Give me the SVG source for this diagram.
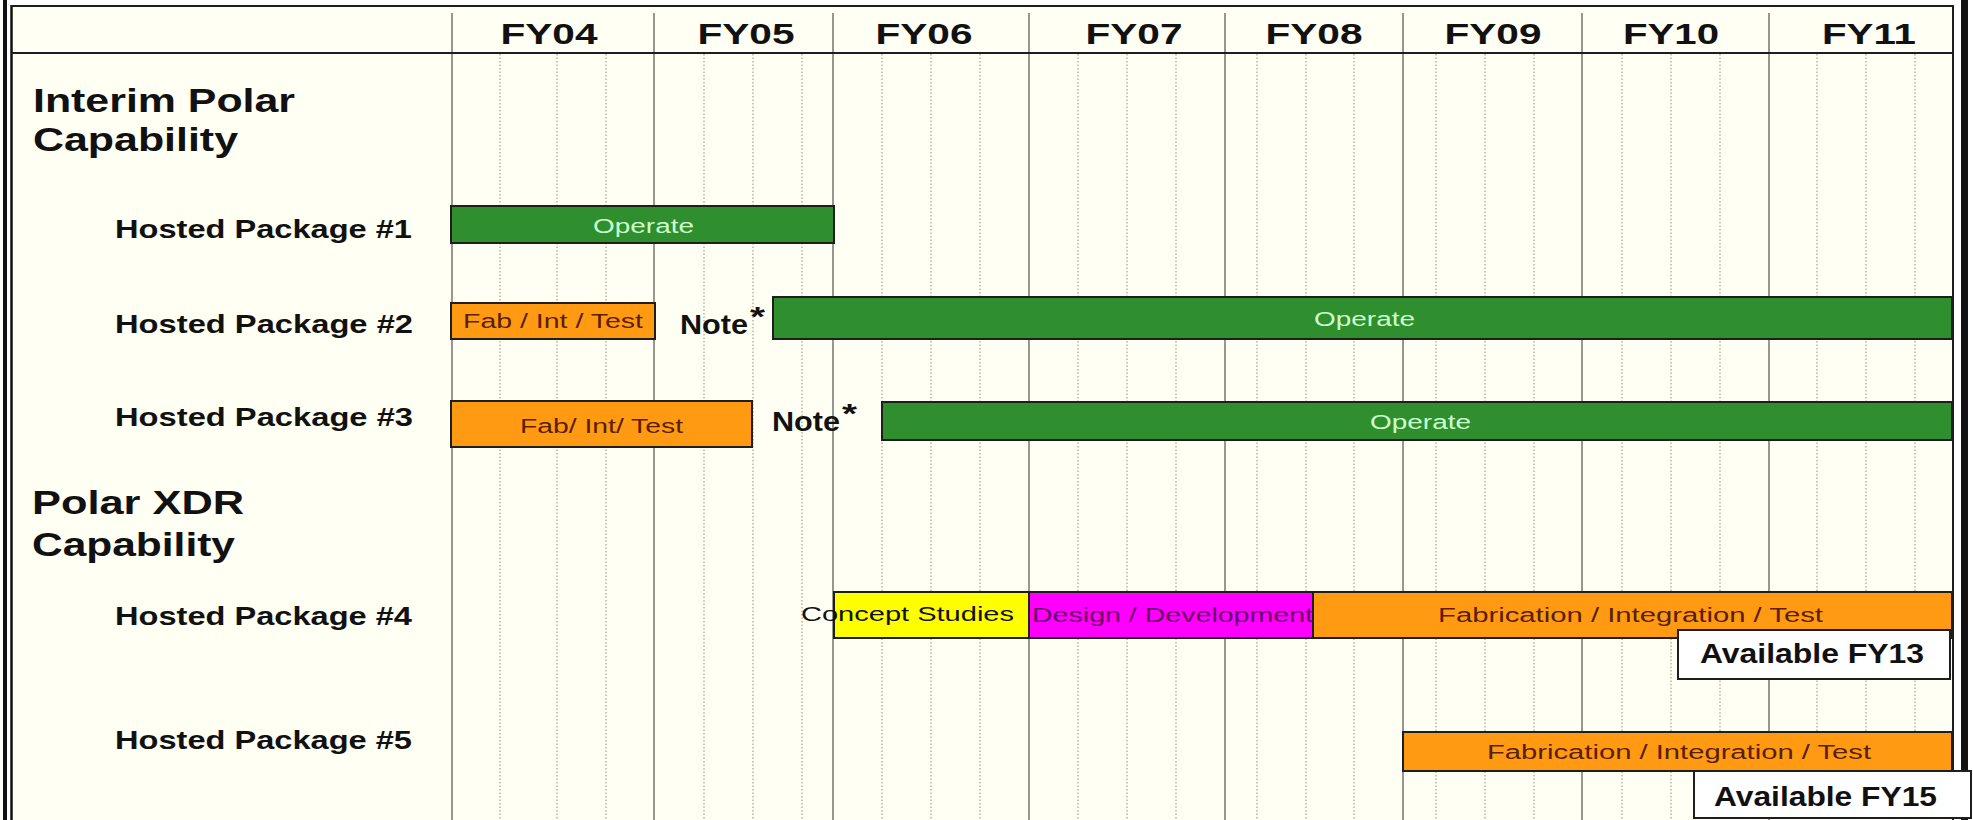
<svg xmlns="http://www.w3.org/2000/svg" width="1973" height="820" viewBox="0 0 1973 820">
<defs>
<style>
.bg{fill:#fffff3}
.yl{stroke:#7e7e74;stroke-width:1.6}
.dl{stroke:#a8a89a;stroke-width:1.3;stroke-dasharray:1.5 2}
.fr{stroke:#1e1e1e;stroke-width:2;fill:none}
.bar{stroke:#1e1e1e;stroke-width:2}
.g{fill:#2f8f2f}
.o{fill:#ff9a12}
.y{fill:#ffff00}
.m{fill:#ff00ff}
.w{fill:#ffffff}
.hd{font-family:"Liberation Sans",Arial,sans-serif;font-weight:bold;font-size:29px;fill:#111;text-anchor:middle}
.sec{font-family:"Liberation Sans",Arial,sans-serif;font-weight:bold;font-size:34px;fill:#111}
.lab{font-family:"Liberation Sans",Arial,sans-serif;font-weight:bold;font-size:26px;fill:#111}
.note{font-family:"Liberation Sans",Arial,sans-serif;font-weight:bold;font-size:27px;fill:#111}
.bt{font-family:"Liberation Sans",Arial,sans-serif;font-size:20px}
.tg{fill:#ccffcc}
.to{fill:#5a1e00}
.tm{fill:#660066}
.tk{fill:#111}
.av{font-family:"Liberation Sans",Arial,sans-serif;font-weight:bold;font-size:27px;fill:#111}
</style>
</defs>
<rect x="0" y="0" width="1973" height="820" fill="#ffffff"/>
<rect class="bg" x="11" y="6" width="1942" height="814"/>

<g id="grid">
<line class="yl" x1="452" y1="13" x2="452" y2="820"/>
<line class="yl" x1="654" y1="13" x2="654" y2="820"/>
<line class="yl" x1="833" y1="13" x2="833" y2="820"/>
<line class="yl" x1="1029" y1="13" x2="1029" y2="820"/>
<line class="yl" x1="1225" y1="13" x2="1225" y2="820"/>
<line class="yl" x1="1403" y1="13" x2="1403" y2="820"/>
<line class="yl" x1="1582" y1="13" x2="1582" y2="820"/>
<line class="yl" x1="1769" y1="13" x2="1769" y2="820"/>
<g>
<line class="dl" x1="500" y1="54" x2="500" y2="820"/>
<line class="dl" x1="557" y1="54" x2="557" y2="820"/>
<line class="dl" x1="606" y1="54" x2="606" y2="820"/>
<line class="dl" x1="704" y1="54" x2="704" y2="820"/>
<line class="dl" x1="753" y1="54" x2="753" y2="820"/>
<line class="dl" x1="802" y1="54" x2="802" y2="820"/>
<line class="dl" x1="882" y1="54" x2="882" y2="820"/>
<line class="dl" x1="931" y1="54" x2="931" y2="820"/>
<line class="dl" x1="980" y1="54" x2="980" y2="820"/>
<line class="dl" x1="1078" y1="54" x2="1078" y2="820"/>
<line class="dl" x1="1127" y1="54" x2="1127" y2="820"/>
<line class="dl" x1="1176" y1="54" x2="1176" y2="820"/>
<line class="dl" x1="1257" y1="54" x2="1257" y2="820"/>
<line class="dl" x1="1306" y1="54" x2="1306" y2="820"/>
<line class="dl" x1="1354" y1="54" x2="1354" y2="820"/>
<line class="dl" x1="1436" y1="54" x2="1436" y2="820"/>
<line class="dl" x1="1485" y1="54" x2="1485" y2="820"/>
<line class="dl" x1="1534" y1="54" x2="1534" y2="820"/>
<line class="dl" x1="1622" y1="54" x2="1622" y2="820"/>
<line class="dl" x1="1671" y1="54" x2="1671" y2="820"/>
<line class="dl" x1="1720" y1="54" x2="1720" y2="820"/>
<line class="dl" x1="1817" y1="54" x2="1817" y2="820"/>
<line class="dl" x1="1866" y1="54" x2="1866" y2="820"/>
<line class="dl" x1="1915" y1="54" x2="1915" y2="820"/>
</g>
</g>

<g id="frame">
<rect x="3" y="0" width="4" height="820" fill="#111"/>
<line x1="11.5" y1="5" x2="11.5" y2="820" stroke="#111" stroke-width="2.5"/>
<line class="fr" x1="11" y1="6" x2="1954" y2="6"/>
<line class="fr" x1="11" y1="53" x2="1953" y2="53"/>
<line class="fr" x1="1953" y1="5" x2="1953" y2="820"/>
<rect x="1961" y="0" width="7" height="820" fill="#111"/>
</g>

<g id="header">
<text class="hd" x="549" y="44" textLength="97" lengthAdjust="spacingAndGlyphs">FY04</text>
<text class="hd" x="746" y="44" textLength="97" lengthAdjust="spacingAndGlyphs">FY05</text>
<text class="hd" x="924" y="44" textLength="97" lengthAdjust="spacingAndGlyphs">FY06</text>
<text class="hd" x="1134" y="44" textLength="97" lengthAdjust="spacingAndGlyphs">FY07</text>
<text class="hd" x="1314" y="44" textLength="97" lengthAdjust="spacingAndGlyphs">FY08</text>
<text class="hd" x="1493" y="44" textLength="97" lengthAdjust="spacingAndGlyphs">FY09</text>
<text class="hd" x="1671" y="44" textLength="96" lengthAdjust="spacingAndGlyphs">FY10</text>
<text class="hd" x="1869" y="44" textLength="94" lengthAdjust="spacingAndGlyphs">FY11</text>
</g>

<g id="section-interim">
<text class="sec" x="33" y="112" textLength="262" lengthAdjust="spacingAndGlyphs">Interim Polar</text>
<text class="sec" x="33" y="151" textLength="205" lengthAdjust="spacingAndGlyphs">Capability</text>
</g>
<g id="section-xdr">
<text class="sec" x="32" y="514" textLength="212" lengthAdjust="spacingAndGlyphs">Polar XDR</text>
<text class="sec" x="32" y="556" textLength="203" lengthAdjust="spacingAndGlyphs">Capability</text>
</g>

<g id="hp1">
<text class="lab" x="115" y="238" textLength="297" lengthAdjust="spacingAndGlyphs">Hosted Package #1</text>
<rect class="bar g" x="451" y="206" width="383" height="37"/>
<text class="bt tg" x="593" y="233" textLength="101" lengthAdjust="spacingAndGlyphs">Operate</text>
</g>

<g id="hp2">
<text class="lab" x="115" y="333" textLength="298" lengthAdjust="spacingAndGlyphs">Hosted Package #2</text>
<rect class="bar o" x="451" y="303" width="204" height="36"/>
<text class="bt to" x="463" y="328" textLength="180" lengthAdjust="spacingAndGlyphs">Fab / Int / Test</text>
<text class="note" x="680" y="334" textLength="68" lengthAdjust="spacingAndGlyphs">Note</text>
<text class="note" x="750" y="326" font-size="22" textLength="15" lengthAdjust="spacingAndGlyphs">*</text>
<rect class="bar g" x="773" y="297" width="1179" height="42"/>
<text class="bt tg" x="1314" y="326" textLength="101" lengthAdjust="spacingAndGlyphs">Operate</text>
</g>

<g id="hp3">
<text class="lab" x="115" y="426" textLength="298" lengthAdjust="spacingAndGlyphs">Hosted Package #3</text>
<rect class="bar o" x="451" y="401" width="301" height="46"/>
<text class="bt to" x="520" y="433" textLength="163" lengthAdjust="spacingAndGlyphs">Fab/ Int/ Test</text>
<text class="note" x="772" y="431" textLength="68" lengthAdjust="spacingAndGlyphs">Note</text>
<text class="note" x="842" y="423" font-size="22" textLength="15" lengthAdjust="spacingAndGlyphs">*</text>
<rect class="bar g" x="882" y="402" width="1070" height="38"/>
<text class="bt tg" x="1370" y="429" textLength="101" lengthAdjust="spacingAndGlyphs">Operate</text>
</g>

<g id="hp4">
<text class="lab" x="115" y="625" textLength="297" lengthAdjust="spacingAndGlyphs">Hosted Package #4</text>
<rect class="bar y" x="834" y="592" width="195" height="46"/>
<rect class="bar m" x="1029" y="592" width="284" height="46"/>
<rect class="bar o" x="1313" y="592" width="639" height="46"/>
<text class="bt tk" x="801" y="621" textLength="213" lengthAdjust="spacingAndGlyphs">Concept Studies</text>
<text class="bt tm" x="1032" y="622" textLength="281" lengthAdjust="spacingAndGlyphs">Design / Development</text>
<text class="bt to" x="1438" y="622" textLength="385" lengthAdjust="spacingAndGlyphs">Fabrication / Integration / Test</text>
</g>
<g id="avail13">
<rect class="bar w" x="1678" y="630" width="272" height="49"/>
<text class="av" x="1700" y="663" textLength="224" lengthAdjust="spacingAndGlyphs">Available FY13</text>
</g>

<g id="hp5">
<text class="lab" x="115" y="749" textLength="297" lengthAdjust="spacingAndGlyphs">Hosted Package #5</text>
<rect class="bar o" x="1403" y="732" width="549" height="39"/>
<text class="bt to" x="1487" y="759" textLength="384" lengthAdjust="spacingAndGlyphs">Fabrication / Integration / Test</text>
</g>
<g id="avail15">
<rect class="bar w" x="1694" y="771" width="277" height="47"/>
<text class="av" x="1714" y="806" textLength="223" lengthAdjust="spacingAndGlyphs">Available FY15</text>
</g>
</svg>
